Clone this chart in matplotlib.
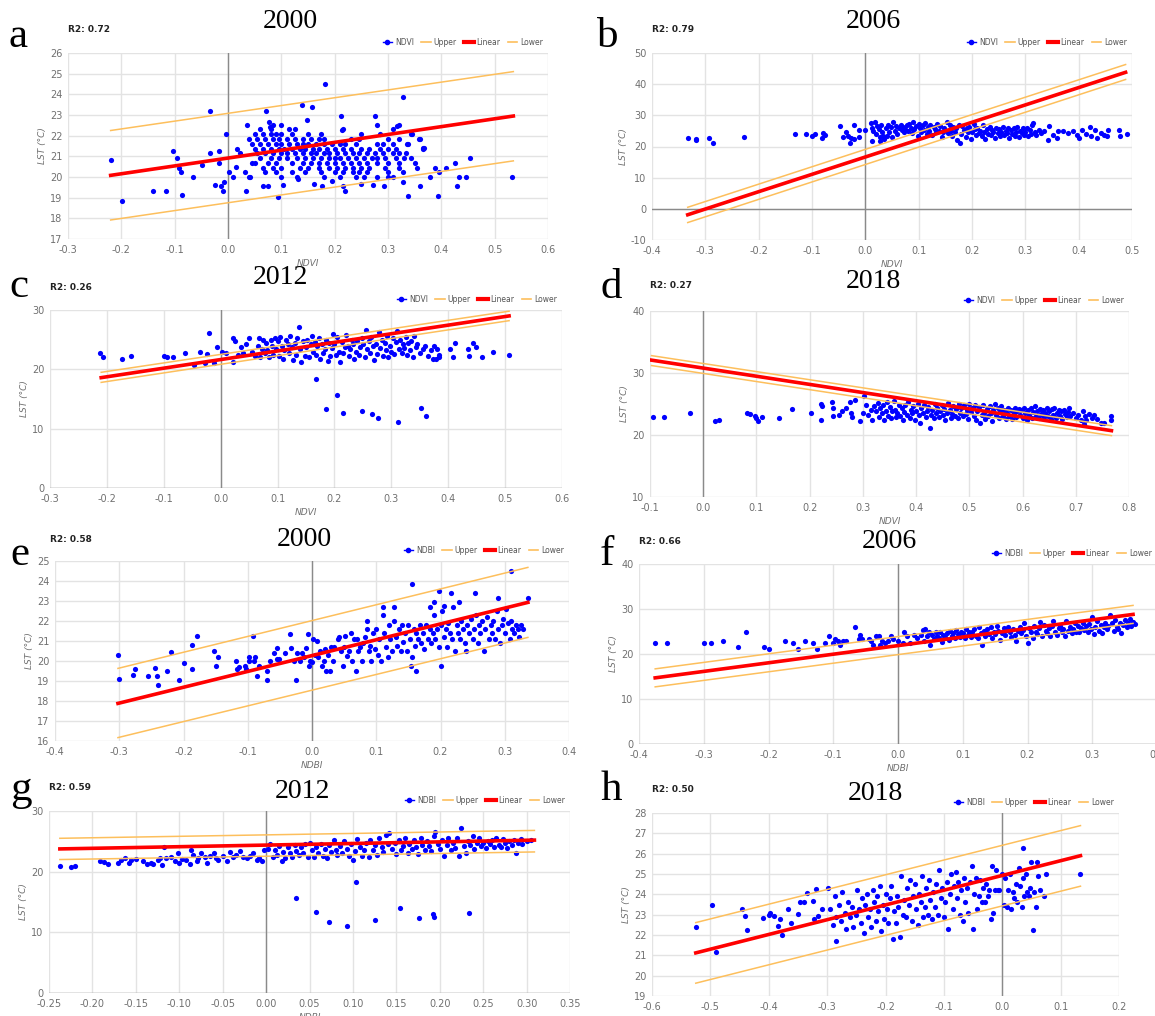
import numpy as np
import matplotlib
matplotlib.use("Agg")
import matplotlib.pyplot as plt
from matplotlib.lines import Line2D

W, H = 1155, 1016

# ---------------- data ----------------
years = ["2000", "2006", "2012", "2018", "2000", "2006", "2012", "2018"]
letters = ["a", "b", "c", "d", "e", "f", "g", "h"]
r2_texts = ["R2: 0.72", "R2: 0.79", "R2: 0.26", "R2: 0.27", "R2: 0.58", "R2: 0.66", "R2: 0.59", "R2: 0.50"]
index_names = ["NDVI", "NDVI", "NDVI", "NDVI", "NDBI", "NDBI", "NDBI", "NDBI"]

xticks_a = [-0.3, -0.2, -0.1, 0.0, 0.1, 0.2, 0.3, 0.4, 0.5, 0.6]
yticks_a = [17, 18, 19, 20, 21, 22, 23, 24, 25, 26]
xticks_b = [-0.4, -0.3, -0.2, -0.1, 0.0, 0.1, 0.2, 0.3, 0.4, 0.5]
yticks_b = [-10, 0, 10, 20, 30, 40, 50]
xticks_c = [-0.3, -0.2, -0.1, 0.0, 0.1, 0.2, 0.3, 0.4, 0.5, 0.6]
yticks_c = [0, 10, 20, 30]
xticks_d = [-0.1, 0.0, 0.1, 0.2, 0.3, 0.4, 0.5, 0.6, 0.7, 0.8]
yticks_d = [10, 20, 30, 40]
xticks_e = [-0.4, -0.3, -0.2, -0.1, 0.0, 0.1, 0.2, 0.3, 0.4]
yticks_e = [16, 17, 18, 19, 20, 21, 22, 23, 24, 25]
xticks_f = [-0.4, -0.3, -0.2, -0.1, 0.0, 0.1, 0.2, 0.3, 0.4]
yticks_f = [0, 10, 20, 30, 40]
xticks_g = [-0.25, -0.20, -0.15, -0.10, -0.05, 0.00, 0.05, 0.10, 0.15, 0.20, 0.25, 0.30, 0.35]
yticks_g = [0, 10, 20, 30]
xticks_h = [-0.6, -0.5, -0.4, -0.3, -0.2, -0.1, 0.0, 0.1, 0.2]
yticks_h = [19, 20, 21, 22, 23, 24, 25, 26, 27, 28]

# regression lines: (x0, y0), (x1, y1)
linear_a = [(-0.22, 20.08), (0.535, 22.95)]
upper_a = [(-0.22, 22.25), (0.535, 25.1)]
lower_a = [(-0.22, 17.92), (0.535, 20.78)]
linear_b = [(-0.333, -1.9), (0.488, 43.8)]
upper_b = [(-0.333, 0.5), (0.488, 46.3)]
lower_b = [(-0.333, -4.4), (0.488, 41.5)]
linear_c = [(-0.21, 18.6), (0.507, 29.0)]
upper_c = [(-0.21, 19.5), (0.507, 29.8)]
lower_c = [(-0.21, 17.8), (0.507, 28.2)]
linear_d = [(-0.097, 32.07), (0.767, 20.7)]
upper_d = [(-0.097, 32.8), (0.767, 21.5)]
lower_d = [(-0.097, 31.2), (0.767, 19.9)]
linear_e = [(-0.302, 17.88), (0.336, 22.93)]
upper_e = [(-0.302, 19.63), (0.336, 24.68)]
lower_e = [(-0.302, 16.17), (0.336, 21.18)]
linear_f = [(-0.375, 14.7), (0.363, 28.8)]
upper_f = [(-0.375, 16.7), (0.363, 30.8)]
lower_f = [(-0.375, 12.7), (0.363, 26.8)]
linear_g = [(-0.2375, 23.75), (0.309, 25.2)]
upper_g = [(-0.2375, 25.5), (0.309, 26.8)]
lower_g = [(-0.2375, 22.0), (0.309, 23.25)]
linear_h = [(-0.525, 21.12), (0.134, 25.9)]
upper_h = [(-0.525, 22.61), (0.134, 27.38)]
lower_h = [(-0.525, 19.63), (0.134, 24.4)]

points_a = [
    (-0.22, 20.82), (-0.198, 18.85), (-0.141, 19.3), (-0.116, 19.3), (-0.104, 21.26), (-0.095, 20.9), (-0.091, 20.42),
    (-0.089, 20.23), (-0.087, 19.14), (-0.065, 20.0), (-0.049, 20.6), (-0.034, 23.19), (-0.034, 21.14), (-0.024, 19.6),
    (-0.016, 21.27), (-0.016, 20.7), (-0.013, 19.55), (-0.01, 19.3), (-0.008, 19.78), (-0.003, 22.06), (0.002, 20.23),
    (0.009, 20.0), (0.015, 20.47), (0.017, 21.37), (0.022, 21.14), (0.031, 20.23), (0.033, 19.3), (0.035, 22.5),
    (0.042, 20.0), (0.045, 20.66), (0.071, 23.19), (0.076, 22.67), (0.078, 22.43), (0.139, 23.5), (0.158, 23.4),
    (0.181, 24.52), (0.149, 22.75), (0.212, 22.96), (0.213, 22.27), (0.276, 22.95), (0.329, 23.85), (0.316, 22.48),
    (0.094, 19.05), (0.075, 19.55), (0.065, 19.55), (0.104, 19.6), (0.132, 19.9), (0.162, 19.65), (0.177, 19.55),
    (0.195, 19.8), (0.215, 19.55), (0.22, 19.3), (0.25, 19.65), (0.271, 19.6), (0.292, 19.55), (0.337, 19.1),
    (0.36, 19.55), (0.394, 19.07), (0.379, 20.0), (0.389, 20.45), (0.396, 20.25), (0.408, 20.45), (0.426, 20.7),
    (0.429, 19.55), (0.433, 20.0), (0.446, 20.0), (0.454, 20.92), (0.532, 20.0), (0.365, 21.38), (0.368, 21.38),
    (0.344, 20.9), (0.35, 20.7), (0.355, 20.45), (0.334, 21.14), (0.337, 21.6), (0.358, 21.83), (0.344, 22.06),
    (0.328, 20.23), (0.328, 19.78),
    (0.085, 22.5), (0.1, 22.5), (0.28, 22.5), (0.32, 22.5),
    (0.06, 22.3), (0.08, 22.3), (0.115, 22.3), (0.125, 22.3), (0.215, 22.3), (0.31, 22.3),
    (0.05, 22.06), (0.065, 22.06), (0.08, 22.06), (0.09, 22.06), (0.1, 22.06), (0.12, 22.06), (0.15, 22.06),
    (0.175, 22.06), (0.25, 22.06), (0.285, 22.06), (0.345, 22.06),
    (0.04, 21.83), (0.055, 21.83), (0.07, 21.83), (0.085, 21.83), (0.095, 21.83), (0.11, 21.83), (0.125, 21.83),
    (0.14, 21.83), (0.155, 21.83), (0.17, 21.83), (0.18, 21.83), (0.23, 21.83), (0.245, 21.83), (0.3, 21.83),
    (0.32, 21.83), (0.36, 21.83),
    (0.045, 21.6), (0.06, 21.6), (0.075, 21.6), (0.09, 21.6), (0.1, 21.6), (0.115, 21.6), (0.13, 21.6), (0.14, 21.6),
    (0.15, 21.6), (0.165, 21.6), (0.18, 21.6), (0.195, 21.6), (0.21, 21.6), (0.22, 21.6), (0.24, 21.6), (0.28, 21.6),
    (0.29, 21.6), (0.31, 21.6), (0.335, 21.6),
    (0.05, 21.37), (0.065, 21.37), (0.08, 21.37), (0.095, 21.37), (0.105, 21.37), (0.12, 21.37), (0.135, 21.37),
    (0.145, 21.37), (0.16, 21.37), (0.17, 21.37), (0.185, 21.37), (0.2, 21.37), (0.215, 21.37), (0.23, 21.37),
    (0.25, 21.37), (0.265, 21.37), (0.285, 21.37), (0.3, 21.37), (0.315, 21.37), (0.365, 21.37),
    (0.055, 21.14), (0.07, 21.14), (0.085, 21.14), (0.1, 21.14), (0.11, 21.14), (0.125, 21.14), (0.14, 21.14),
    (0.155, 21.14), (0.165, 21.14), (0.18, 21.14), (0.19, 21.14), (0.205, 21.14), (0.22, 21.14), (0.235, 21.14),
    (0.245, 21.14), (0.26, 21.14), (0.275, 21.14), (0.29, 21.14), (0.31, 21.14), (0.32, 21.14),
    (0.06, 20.9), (0.08, 20.9), (0.095, 20.9), (0.11, 20.9), (0.13, 20.9), (0.145, 20.9), (0.16, 20.9), (0.175, 20.9),
    (0.19, 20.9), (0.2, 20.9), (0.21, 20.9), (0.225, 20.9), (0.24, 20.9), (0.255, 20.9), (0.27, 20.9), (0.28, 20.9),
    (0.295, 20.9), (0.315, 20.9), (0.33, 20.9),
    (0.05, 20.68), (0.075, 20.68), (0.09, 20.68), (0.12, 20.68), (0.14, 20.68), (0.155, 20.68), (0.17, 20.68),
    (0.185, 20.68), (0.2, 20.68), (0.215, 20.68), (0.23, 20.68), (0.245, 20.68), (0.26, 20.68), (0.28, 20.68),
    (0.3, 20.68), (0.32, 20.68),
    (0.065, 20.45), (0.085, 20.45), (0.1, 20.45), (0.135, 20.45), (0.15, 20.45), (0.17, 20.45), (0.19, 20.45),
    (0.205, 20.45), (0.22, 20.45), (0.235, 20.45), (0.25, 20.45), (0.265, 20.45), (0.295, 20.45), (0.32, 20.45),
    (0.07, 20.23), (0.09, 20.23), (0.12, 20.23), (0.145, 20.23), (0.175, 20.23), (0.2, 20.23), (0.215, 20.23),
    (0.235, 20.23), (0.245, 20.23), (0.26, 20.23), (0.3, 20.23),
    (0.04, 20.0), (0.1, 20.0), (0.13, 20.0), (0.18, 20.0), (0.21, 20.0), (0.24, 20.0), (0.255, 20.0), (0.28, 20.0),
    (0.3, 20.0), (0.31, 20.0),
]

points_b = [
    (-0.333, 22.6), (-0.318, 22.4), (-0.317, 22.0), (-0.294, 22.6), (-0.286, 21.1), (-0.228, 23.0), (-0.131, 23.9),
    (-0.111, 23.9), (-0.1, 23.5), (-0.095, 23.9), (-0.082, 22.6), (-0.079, 24.3), (-0.076, 23.8), (-0.048, 26.7),
    (-0.041, 23.0), (-0.037, 24.8), (-0.033, 23.3), (-0.028, 21.1), (-0.026, 22.7), (-0.021, 26.9), (-0.021, 22.4),
    (-0.012, 23.0), (-0.012, 25.2), (0.0, 25.2), (0.013, 21.8), (0.027, 21.8), (0.034, 23.3),
    (0.344, 26.7), (0.343, 22.2), (0.352, 23.8), (0.359, 22.7), (0.362, 25.1), (0.371, 24.9), (0.38, 24.3),
    (0.39, 25.1), (0.397, 23.8), (0.4, 22.7), (0.407, 25.2), (0.414, 24.1), (0.421, 26.2), (0.424, 23.3),
    (0.431, 25.2), (0.435, 22.6), (0.441, 24.3), (0.448, 23.8), (0.455, 25.4), (0.454, 23.5), (0.476, 25.4),
    (0.477, 23.5), (0.49, 24.0),
    (0.01, 27.5), (0.012, 26.0), (0.015, 25.0), (0.018, 27.8), (0.02, 24.0), (0.022, 26.5), (0.025, 25.5),
    (0.028, 23.0), (0.03, 26.8), (0.032, 24.5), (0.035, 22.5), (0.038, 25.8), (0.04, 23.5), (0.042, 27.0),
    (0.045, 24.8), (0.048, 26.2), (0.05, 23.0), (0.052, 27.8), (0.055, 25.0), (0.058, 26.5), (0.06, 24.0),
    (0.063, 25.8), (0.066, 27.0), (0.068, 25.2), (0.07, 26.3), (0.073, 24.6), (0.075, 25.7), (0.078, 26.8),
    (0.08, 25.0), (0.082, 27.3), (0.085, 26.0), (0.088, 24.3), (0.09, 27.8), (0.092, 25.5), (0.095, 26.6),
    (0.098, 23.5), (0.1, 27.2), (0.102, 25.9), (0.105, 24.8), (0.108, 26.9), (0.11, 25.3), (0.112, 27.5),
    (0.115, 24.0), (0.118, 26.2), (0.12, 25.0), (0.122, 27.0), (0.125, 23.8), (0.128, 26.4), (0.13, 25.6),
    (0.133, 24.5), (0.135, 27.2), (0.138, 25.1), (0.14, 26.5), (0.143, 23.0), (0.145, 24.8), (0.148, 26.0),
    (0.15, 25.3), (0.153, 28.0), (0.155, 24.2), (0.158, 26.8), (0.16, 25.0), (0.162, 23.5), (0.165, 26.2),
    (0.168, 24.6), (0.17, 25.8), (0.172, 22.0), (0.175, 27.0), (0.177, 21.0), (0.18, 24.0), (0.182, 26.5),
    (0.185, 25.2), (0.188, 23.2), (0.19, 25.8), (0.192, 24.5), (0.195, 26.3), (0.198, 22.5), (0.2, 24.8),
    (0.203, 27.2), (0.205, 25.5), (0.208, 23.8), (0.21, 26.0), (0.213, 24.3), (0.215, 25.0), (0.218, 23.5),
    (0.22, 26.8), (0.223, 24.8), (0.225, 22.3), (0.228, 25.5), (0.23, 24.0), (0.233, 26.2), (0.235, 23.6),
    (0.238, 25.2), (0.24, 24.5), (0.243, 22.8), (0.245, 26.0), (0.248, 24.2), (0.25, 25.5), (0.253, 23.4),
    (0.255, 24.8), (0.258, 26.3), (0.26, 23.8), (0.263, 25.0), (0.265, 24.3), (0.268, 26.0), (0.27, 22.8),
    (0.273, 25.3), (0.275, 24.0), (0.278, 25.8), (0.28, 23.5), (0.283, 24.7), (0.285, 26.4), (0.288, 23.2),
    (0.29, 25.0), (0.293, 24.2), (0.295, 25.8), (0.298, 23.8), (0.3, 24.6), (0.303, 26.0), (0.305, 23.4),
    (0.308, 25.2), (0.31, 24.0), (0.313, 26.8), (0.315, 27.4), (0.318, 24.5), (0.32, 23.6), (0.325, 25.4),
    (0.33, 24.2), (0.335, 25.0),
]

points_c = [
    (-0.212, 22.7), (-0.207, 22.1), (-0.174, 21.8), (-0.157, 22.3), (-0.1, 22.3), (-0.094, 22.1), (-0.083, 22.1),
    (-0.063, 22.7), (-0.047, 20.7), (-0.037, 23.0), (-0.027, 21.0), (-0.024, 22.6), (-0.02, 26.1), (-0.012, 21.0),
    (-0.007, 23.7), (0.002, 22.9), (0.01, 22.8), (0.021, 21.3), (0.021, 25.2),
    (0.167, 18.3), (0.185, 13.3), (0.205, 15.7), (0.215, 12.7), (0.249, 13.0), (0.266, 12.5), (0.276, 11.8),
    (0.312, 11.1), (0.353, 13.4), (0.361, 12.2),
    (0.374, 21.7), (0.383, 22.4), (0.404, 23.4), (0.408, 22.1), (0.412, 24.5), (0.435, 23.5), (0.436, 22.3),
    (0.444, 24.4), (0.448, 23.7), (0.459, 22.1), (0.479, 23.0), (0.507, 22.4),
    (0.025, 24.8), (0.03, 22.5), (0.035, 23.8), (0.04, 22.8), (0.045, 24.2), (0.05, 25.2), (0.055, 23.0),
    (0.06, 22.3), (0.065, 24.0), (0.068, 25.3), (0.07, 22.0), (0.072, 23.5), (0.075, 25.0), (0.078, 22.8),
    (0.08, 24.5), (0.082, 23.2), (0.085, 22.0), (0.088, 25.0), (0.09, 24.0), (0.092, 22.5), (0.095, 25.3),
    (0.098, 23.5), (0.1, 24.8), (0.102, 22.3), (0.105, 25.5), (0.108, 24.0), (0.11, 21.8), (0.112, 23.2),
    (0.115, 25.0), (0.118, 24.3), (0.12, 22.8), (0.122, 25.6), (0.125, 23.8), (0.128, 21.5), (0.13, 24.5),
    (0.132, 22.5), (0.135, 25.2), (0.138, 27.2), (0.14, 23.5), (0.142, 21.2), (0.145, 24.8), (0.148, 22.3),
    (0.15, 23.8), (0.152, 25.0), (0.155, 22.0), (0.158, 24.3), (0.16, 25.6), (0.162, 23.0), (0.165, 24.6),
    (0.168, 22.5), (0.17, 23.9), (0.173, 25.3), (0.175, 21.8), (0.178, 24.2), (0.18, 22.8), (0.183, 23.5),
    (0.185, 25.0), (0.188, 21.4), (0.19, 24.5), (0.193, 22.2), (0.195, 23.6), (0.198, 26.0), (0.2, 24.2),
    (0.202, 22.5), (0.205, 25.5), (0.208, 23.0), (0.21, 21.2), (0.213, 24.6), (0.215, 22.8), (0.218, 23.8),
    (0.22, 25.8), (0.223, 24.0), (0.225, 22.2), (0.228, 23.4), (0.23, 25.0), (0.233, 24.3), (0.235, 21.8),
    (0.238, 23.0), (0.24, 24.8), (0.243, 22.5), (0.245, 23.7), (0.248, 25.3), (0.25, 24.2), (0.253, 22.0),
    (0.255, 26.6), (0.258, 23.5), (0.26, 24.7), (0.263, 22.8), (0.265, 25.5), (0.268, 23.9), (0.27, 21.5),
    (0.273, 24.3), (0.275, 22.6), (0.278, 26.3), (0.28, 23.6), (0.283, 25.0), (0.285, 22.3), (0.288, 24.5),
    (0.29, 23.2), (0.293, 25.6), (0.295, 22.0), (0.298, 24.0), (0.3, 23.0), (0.303, 25.3), (0.305, 22.6),
    (0.308, 24.6), (0.31, 26.5), (0.313, 23.4), (0.315, 24.9), (0.318, 22.8), (0.32, 24.2), (0.323, 23.6),
    (0.325, 25.5), (0.328, 22.5), (0.33, 24.5), (0.333, 23.2), (0.335, 24.8), (0.338, 22.0), (0.34, 25.6),
    (0.343, 23.8), (0.345, 24.3), (0.35, 22.8), (0.355, 23.5), (0.36, 24.0), (0.365, 22.3), (0.37, 23.2),
    (0.375, 24.0), (0.378, 21.8), (0.38, 23.5), (0.383, 22.0),
]

points_d = [
    (-0.094, 22.97), (-0.074, 22.97), (-0.025, 23.5), (0.023, 22.3), (0.03, 22.4), (0.083, 23.5), (0.087, 23.4),
    (0.098, 23.1), (0.1, 22.7), (0.103, 22.3), (0.11, 22.9), (0.142, 22.8), (0.167, 24.2), (0.202, 23.5),
    (0.221, 25.0), (0.224, 24.6), (0.221, 22.4), (0.242, 25.4), (0.244, 24.4), (0.244, 23.0), (0.255, 23.2),
    (0.261, 23.8), (0.269, 24.3), (0.275, 25.4), (0.278, 23.5), (0.28, 22.9), (0.286, 25.6), (0.294, 22.3),
    (0.753, 21.9), (0.767, 23.1), (0.767, 22.4),
    (0.3, 23.6), (0.302, 26.3), (0.305, 24.9), (0.31, 23.2), (0.315, 24.0), (0.318, 22.5), (0.32, 24.6),
    (0.325, 23.8), (0.328, 25.2), (0.33, 22.9), (0.333, 24.3), (0.335, 23.5), (0.338, 24.9), (0.34, 22.4),
    (0.343, 23.9), (0.345, 25.3), (0.348, 23.1), (0.35, 24.5), (0.353, 22.7), (0.355, 23.8), (0.358, 25.5),
    (0.36, 24.1), (0.363, 22.9), (0.365, 23.5), (0.368, 24.8), (0.37, 23.0), (0.373, 24.3), (0.375, 22.5),
    (0.378, 23.7), (0.38, 24.9), (0.383, 23.3), (0.385, 25.3), (0.388, 22.8), (0.39, 24.1), (0.393, 23.5),
    (0.395, 24.6), (0.398, 22.4), (0.4, 23.9), (0.403, 25.0), (0.405, 23.2), (0.408, 22.0), (0.41, 24.4),
    (0.413, 23.6), (0.415, 24.8), (0.418, 22.9), (0.42, 23.8), (0.423, 24.5), (0.426, 21.2), (0.428, 23.3),
    (0.43, 24.1), (0.433, 22.7), (0.435, 25.0), (0.438, 23.6), (0.44, 24.4), (0.443, 22.9), (0.445, 23.8),
    (0.448, 24.8), (0.45, 23.2), (0.453, 24.2), (0.455, 22.5), (0.458, 23.6), (0.46, 25.2), (0.463, 24.0),
    (0.465, 22.8), (0.468, 23.4), (0.47, 24.6), (0.473, 23.1), (0.475, 24.2), (0.478, 22.7), (0.48, 25.0),
    (0.483, 23.6), (0.485, 24.4), (0.488, 23.0), (0.49, 24.8), (0.493, 23.4), (0.495, 24.1), (0.498, 22.6),
    (0.5, 25.0), (0.503, 23.7), (0.505, 24.3), (0.508, 23.1), (0.51, 24.8), (0.513, 22.4), (0.515, 23.8),
    (0.518, 24.5), (0.52, 22.0), (0.523, 23.3), (0.525, 24.9), (0.528, 23.6), (0.53, 22.6), (0.533, 24.2),
    (0.535, 23.0), (0.538, 24.7), (0.54, 23.5), (0.543, 22.2), (0.545, 24.0), (0.548, 25.0), (0.55, 23.3),
    (0.553, 24.4), (0.555, 22.8), (0.558, 23.8), (0.56, 24.6), (0.563, 23.1), (0.565, 24.1), (0.568, 22.6),
    (0.57, 23.6), (0.573, 24.4), (0.575, 23.0), (0.578, 24.0), (0.58, 22.6), (0.583, 23.5), (0.585, 24.3),
    (0.588, 22.9), (0.59, 23.8), (0.593, 24.2), (0.595, 23.2), (0.598, 24.0), (0.6, 22.8), (0.603, 24.4),
    (0.605, 23.5), (0.608, 22.5), (0.61, 24.1), (0.613, 23.3), (0.615, 24.4), (0.618, 22.8), (0.62, 23.7),
    (0.623, 24.6), (0.625, 23.0), (0.628, 23.9), (0.63, 22.7), (0.633, 24.2), (0.635, 23.4), (0.638, 24.0),
    (0.64, 22.9), (0.643, 23.6), (0.645, 24.3), (0.648, 23.1), (0.65, 23.8), (0.653, 22.6), (0.655, 24.2),
    (0.658, 23.3), (0.66, 24.4), (0.663, 22.8), (0.665, 23.6), (0.668, 24.1), (0.67, 23.0), (0.673, 23.8),
    (0.675, 22.6), (0.678, 24.0), (0.68, 23.4), (0.683, 22.9), (0.685, 23.7), (0.688, 24.3), (0.69, 23.1),
    (0.695, 23.6), (0.7, 22.8), (0.705, 23.3), (0.71, 22.5), (0.713, 23.8), (0.715, 21.8), (0.718, 23.0),
    (0.72, 22.4), (0.725, 23.4), (0.73, 22.7), (0.735, 23.2), (0.74, 22.6), (0.748, 21.9),
]

points_e = [
    (-0.302, 20.3), (-0.301, 19.12), (-0.278, 19.3), (-0.275, 19.58), (-0.256, 19.27), (-0.245, 19.63),
    (-0.242, 19.27), (-0.239, 18.8), (-0.225, 19.52), (-0.22, 20.43), (-0.207, 19.05), (-0.199, 19.92),
    (-0.187, 20.8), (-0.186, 19.58), (-0.179, 21.27), (-0.153, 20.52), (-0.149, 19.73), (-0.146, 20.22),
    (-0.119, 20.0), (-0.116, 19.58), (-0.114, 19.68), (-0.105, 19.77), (-0.103, 19.6), (-0.098, 20.2),
    (-0.098, 20.0), (-0.092, 21.25), (-0.09, 20.0), (-0.089, 20.2), (-0.085, 19.27), (-0.082, 19.75),
    (-0.07, 19.05), (-0.07, 19.52), (-0.065, 20.0), (-0.059, 20.42), (-0.054, 20.67), (-0.054, 20.1),
    (-0.051, 20.1), (-0.042, 20.42), (-0.035, 21.33), (-0.032, 20.67), (-0.028, 20.0), (-0.025, 19.05),
    (-0.024, 20.42), (-0.019, 20.0), (-0.016, 20.42), (-0.013, 20.22), (-0.01, 20.67), (-0.006, 21.33),
    (-0.005, 19.77), (-0.003, 20.0), (0.0, 19.97), (0.001, 21.1),
    (0.155, 23.83), (0.197, 23.5), (0.216, 23.38), (0.229, 22.93), (0.254, 23.38), (0.289, 23.13), (0.31, 24.5),
    (0.336, 23.17), (0.19, 22.93), (0.183, 22.72), (0.128, 22.72), (0.205, 22.75), (0.154, 19.73), (0.162, 19.52),
    (0.2, 19.75),
    (0.005, 20.3), (0.008, 21.0), (0.01, 20.2), (0.013, 20.5), (0.015, 19.75), (0.018, 20.0), (0.02, 20.6),
    (0.022, 19.5), (0.025, 20.3), (0.028, 19.5), (0.03, 20.7), (0.033, 20.0), (0.035, 20.7), (0.04, 21.1),
    (0.042, 21.2), (0.045, 20.5), (0.048, 19.75), (0.05, 20.7), (0.052, 21.25), (0.055, 20.25), (0.058, 20.5),
    (0.06, 21.4), (0.063, 20.0), (0.065, 21.1), (0.068, 19.5), (0.07, 21.1), (0.072, 20.5), (0.075, 20.7),
    (0.078, 20.0), (0.08, 20.9), (0.082, 21.2), (0.085, 22.0), (0.086, 21.6), (0.088, 20.5), (0.09, 20.75),
    (0.092, 20.0), (0.095, 21.4), (0.098, 20.6), (0.1, 21.6), (0.102, 20.3), (0.105, 21.1), (0.108, 20.0),
    (0.11, 22.3), (0.111, 22.7), (0.112, 21.4), (0.115, 20.7), (0.118, 20.2), (0.12, 21.8), (0.122, 21.1),
    (0.125, 20.5), (0.128, 22.0), (0.13, 21.2), (0.133, 20.75), (0.135, 21.6), (0.138, 20.5), (0.14, 21.8),
    (0.142, 20.95), (0.145, 21.4), (0.148, 20.5), (0.15, 21.8), (0.152, 21.1), (0.155, 20.2), (0.158, 21.6),
    (0.16, 20.75), (0.162, 21.4), (0.165, 21.1), (0.168, 21.8), (0.17, 20.9), (0.172, 21.4), (0.175, 20.6),
    (0.178, 21.8), (0.18, 21.1), (0.183, 21.6), (0.185, 20.9), (0.188, 21.4), (0.19, 22.3), (0.192, 21.1),
    (0.195, 21.6), (0.198, 20.7), (0.2, 21.8), (0.203, 22.5), (0.205, 21.2), (0.208, 21.6), (0.21, 20.7),
    (0.212, 21.9), (0.215, 21.4), (0.218, 21.1), (0.22, 22.7), (0.222, 20.5), (0.225, 21.8), (0.228, 21.4),
    (0.23, 21.1), (0.232, 22.0), (0.235, 21.6), (0.238, 20.9), (0.24, 20.5), (0.242, 21.8), (0.245, 21.4),
    (0.248, 22.1), (0.25, 21.1), (0.252, 21.6), (0.255, 22.3), (0.258, 20.9), (0.26, 21.8), (0.262, 21.4),
    (0.265, 22.0), (0.268, 20.5), (0.27, 21.6), (0.272, 22.2), (0.275, 21.1), (0.278, 21.8), (0.28, 21.4),
    (0.282, 22.0), (0.285, 21.1), (0.288, 22.5), (0.29, 21.6), (0.292, 20.9), (0.295, 21.8), (0.298, 22.1),
    (0.3, 21.4), (0.302, 22.6), (0.305, 21.9), (0.308, 21.1), (0.31, 22.0), (0.312, 21.6), (0.315, 21.4),
    (0.318, 21.8), (0.32, 21.6), (0.322, 21.2), (0.325, 21.8), (0.328, 21.6),
]

points_f = [
    (-0.375, 22.5), (-0.357, 22.5), (-0.299, 22.5), (-0.289, 22.5), (-0.271, 23.0), (-0.247, 21.6), (-0.234, 24.8),
    (-0.207, 21.6), (-0.2, 21.1), (-0.175, 23.0), (-0.162, 22.5), (-0.154, 21.1), (-0.143, 23.0), (-0.132, 22.5),
    (-0.125, 21.1), (-0.112, 22.5), (-0.106, 23.9), (-0.101, 22.5), (-0.098, 23.4), (-0.092, 23.0), (-0.089, 22.0),
    (-0.085, 23.0), (-0.08, 23.0), (-0.066, 26.1), (-0.058, 24.3), (-0.06, 23.4), (-0.055, 23.4), (-0.045, 23.4),
    (-0.041, 23.0), (-0.038, 22.1), (-0.034, 23.9), (-0.03, 23.9), (-0.028, 22.1), (-0.024, 23.0), (-0.02, 22.5),
    (-0.016, 23.0), (-0.011, 23.9), (-0.007, 23.4), (0.0, 23.0), (0.007, 22.5), (0.01, 24.8), (0.014, 23.9),
    (0.018, 22.5), (0.024, 24.3),
    (0.03, 23.5), (0.035, 24.3), (0.038, 25.3), (0.04, 22.8), (0.042, 25.6), (0.045, 23.9), (0.048, 24.8),
    (0.05, 22.1), (0.052, 24.2), (0.055, 23.4), (0.058, 24.8), (0.06, 24.1), (0.063, 23.5), (0.065, 24.9),
    (0.068, 22.7), (0.07, 24.3), (0.072, 23.8), (0.075, 24.6), (0.078, 23.2), (0.08, 25.1), (0.083, 24.0),
    (0.085, 24.7), (0.088, 23.5), (0.09, 25.3), (0.093, 24.4), (0.095, 23.8), (0.098, 25.0), (0.1, 24.6),
    (0.103, 23.6), (0.105, 25.6), (0.108, 24.3), (0.11, 25.0), (0.113, 23.8), (0.115, 24.8), (0.118, 25.5),
    (0.12, 24.1), (0.123, 23.5), (0.125, 25.9), (0.128, 24.6), (0.13, 22.1), (0.133, 25.2), (0.135, 24.0),
    (0.138, 25.6), (0.14, 24.4), (0.143, 26.0), (0.145, 23.6), (0.148, 25.0), (0.15, 24.5), (0.153, 26.3),
    (0.155, 25.1), (0.158, 23.1), (0.16, 24.6), (0.163, 25.8), (0.165, 24.2), (0.168, 25.4), (0.17, 26.1),
    (0.173, 24.8), (0.175, 23.8), (0.178, 25.6), (0.18, 24.3), (0.183, 23.0), (0.185, 25.2), (0.188, 26.0),
    (0.19, 24.6), (0.193, 25.4), (0.195, 27.0), (0.198, 24.1), (0.2, 22.5), (0.203, 25.8), (0.205, 24.8),
    (0.208, 23.5), (0.21, 26.2), (0.213, 25.0), (0.215, 24.4), (0.218, 25.7), (0.22, 27.2), (0.223, 24.0),
    (0.225, 26.4), (0.228, 25.2), (0.23, 24.6), (0.233, 25.8), (0.235, 24.0), (0.238, 26.2), (0.24, 27.3),
    (0.243, 25.0), (0.245, 24.3), (0.248, 25.7), (0.25, 26.3), (0.253, 24.8), (0.255, 25.5), (0.258, 24.0),
    (0.26, 27.3), (0.263, 25.2), (0.265, 26.0), (0.268, 24.6), (0.27, 25.6), (0.273, 26.8), (0.275, 25.0),
    (0.278, 26.2), (0.28, 24.8), (0.283, 25.8), (0.285, 27.0), (0.288, 25.3), (0.29, 26.3), (0.293, 25.0),
    (0.295, 26.7), (0.298, 25.5), (0.3, 28.2), (0.303, 24.4), (0.305, 26.0), (0.308, 27.4), (0.31, 25.2),
    (0.313, 26.5), (0.315, 24.6), (0.318, 26.0), (0.32, 27.0), (0.323, 25.6), (0.325, 26.3), (0.328, 28.6),
    (0.33, 26.8), (0.333, 25.2), (0.335, 27.5), (0.338, 26.0), (0.34, 25.6), (0.343, 27.0), (0.345, 24.7),
    (0.348, 26.4), (0.35, 27.6), (0.353, 26.0), (0.355, 26.8), (0.358, 27.8), (0.36, 26.3), (0.363, 27.2),
    (0.366, 26.6),
]

points_g = [
    (-0.2375, 20.95), (-0.225, 20.7), (-0.22, 20.95), (-0.191, 21.8), (-0.187, 21.6), (-0.182, 21.2),
    (-0.17, 21.5), (-0.167, 21.9), (-0.162, 22.2), (-0.158, 21.4), (-0.155, 22.0), (-0.15, 22.1), (-0.142, 21.7),
    (-0.137, 21.2), (-0.133, 21.5), (-0.13, 21.3), (-0.125, 22.0), (-0.122, 22.3), (-0.12, 21.1), (-0.117, 24.1),
    (-0.115, 22.2), (-0.11, 22.4), (-0.105, 21.7), (-0.102, 23.0), (-0.1, 21.5), (-0.097, 22.1), (-0.092, 22.0),
    (-0.088, 21.2), (-0.086, 23.6), (-0.084, 22.8), (-0.08, 21.8), (-0.078, 22.2), (-0.075, 23.0), (-0.07, 22.5),
    (-0.068, 21.5), (-0.065, 22.6), (-0.06, 23.0), (-0.058, 22.3), (-0.055, 22.0), (-0.05, 22.6), (-0.045, 21.8),
    (-0.042, 23.2), (-0.038, 22.4), (-0.035, 22.8), (-0.03, 23.4), (-0.027, 22.5), (-0.022, 22.3), (-0.018, 22.6),
    (-0.015, 23.0), (-0.01, 21.9), (-0.008, 22.2), (-0.005, 21.8), (-0.002, 23.5),
    (0.0345, 15.6), (0.058, 13.3), (0.072, 11.7), (0.093, 11.1), (0.103, 18.3), (0.126, 12.1), (0.154, 14.0),
    (0.176, 12.4), (0.192, 13.0), (0.193, 12.6), (0.234, 13.2),
    (0.002, 23.8), (0.005, 24.5), (0.008, 22.4), (0.01, 23.5), (0.012, 22.8), (0.015, 24.2), (0.018, 21.8),
    (0.02, 23.2), (0.022, 22.3), (0.025, 24.0), (0.028, 23.0), (0.03, 22.5), (0.033, 24.4), (0.035, 23.4),
    (0.038, 22.8), (0.04, 24.0), (0.043, 23.0), (0.045, 24.5), (0.048, 22.5), (0.05, 24.8), (0.053, 23.5),
    (0.055, 22.5), (0.058, 24.1), (0.06, 23.0), (0.063, 24.6), (0.065, 22.6), (0.068, 23.8), (0.07, 22.3),
    (0.072, 24.4), (0.075, 23.2), (0.078, 25.2), (0.08, 23.6), (0.082, 22.8), (0.085, 24.3), (0.088, 23.0),
    (0.09, 25.1), (0.093, 23.8), (0.095, 22.6), (0.098, 24.6), (0.1, 22.0), (0.102, 23.4), (0.105, 25.4),
    (0.108, 24.0), (0.11, 22.6), (0.113, 23.6), (0.115, 24.8), (0.118, 22.4), (0.12, 25.3), (0.123, 23.5),
    (0.125, 24.4), (0.128, 22.8), (0.13, 25.5), (0.133, 24.0), (0.135, 23.2), (0.138, 26.1), (0.14, 24.6),
    (0.142, 26.3), (0.145, 23.8), (0.148, 24.8), (0.15, 22.9), (0.153, 25.2), (0.155, 23.6), (0.158, 24.3),
    (0.16, 25.6), (0.163, 23.0), (0.165, 24.6), (0.168, 23.8), (0.17, 25.3), (0.173, 24.1), (0.175, 22.9),
    (0.178, 25.6), (0.18, 24.4), (0.183, 23.6), (0.185, 25.0), (0.188, 24.2), (0.19, 23.4), (0.193, 25.9),
    (0.195, 26.5), (0.198, 24.6), (0.2, 23.8), (0.203, 25.3), (0.205, 22.6), (0.208, 24.4), (0.21, 25.5),
    (0.213, 23.6), (0.215, 24.8), (0.218, 23.9), (0.22, 25.6), (0.222, 22.6), (0.225, 27.2), (0.228, 24.2),
    (0.23, 23.0), (0.233, 25.0), (0.235, 24.4), (0.238, 25.9), (0.24, 23.8), (0.243, 24.8), (0.245, 25.6),
    (0.248, 24.2), (0.25, 24.8), (0.253, 23.9), (0.255, 25.0), (0.258, 24.5), (0.26, 25.3), (0.263, 24.0),
    (0.265, 25.6), (0.268, 24.4), (0.27, 24.0), (0.273, 25.4), (0.275, 24.7), (0.278, 23.9), (0.28, 25.0),
    (0.283, 24.4), (0.285, 25.3), (0.288, 23.0), (0.29, 24.8), (0.293, 25.4), (0.295, 24.6), (0.3, 25.0),
    (0.305, 25.2),
]

points_h = [
    (-0.525, 22.4), (-0.497, 23.47), (-0.491, 21.17), (-0.446, 23.27), (-0.441, 22.94), (-0.438, 22.25),
    (-0.41, 22.83), (-0.4, 22.99), (-0.398, 23.07), (-0.391, 22.91), (-0.384, 22.42), (-0.38, 22.78),
    (-0.377, 22.02), (-0.367, 23.3), (-0.362, 22.61), (-0.35, 23.02), (-0.347, 23.6), (-0.339, 23.6),
    (-0.334, 24.06), (-0.324, 23.65), (-0.322, 22.78), (-0.319, 24.26), (-0.315, 22.91), (-0.309, 23.27),
    (-0.298, 24.3), (-0.284, 21.71),
    (-0.295, 23.3), (-0.29, 22.5), (-0.287, 23.9), (-0.285, 22.9), (-0.28, 23.5), (-0.277, 22.7), (-0.275, 24.1),
    (-0.27, 23.1), (-0.268, 22.3), (-0.265, 23.6), (-0.26, 22.9), (-0.258, 23.4), (-0.255, 22.4), (-0.25, 23.0),
    (-0.248, 24.2), (-0.245, 23.3), (-0.242, 22.6), (-0.24, 23.8), (-0.237, 22.1), (-0.235, 23.5), (-0.232, 24.0),
    (-0.23, 22.9), (-0.227, 23.3), (-0.225, 22.4), (-0.222, 24.2), (-0.22, 23.6), (-0.217, 22.7), (-0.215, 23.9),
    (-0.212, 23.2), (-0.21, 24.4), (-0.207, 22.2), (-0.205, 23.5), (-0.202, 22.8), (-0.2, 24.0), (-0.198, 23.3),
    (-0.195, 22.6), (-0.192, 23.8), (-0.19, 24.4), (-0.187, 21.8), (-0.185, 23.2), (-0.182, 22.6), (-0.18, 23.9),
    (-0.178, 23.4), (-0.175, 21.9), (-0.173, 24.9), (-0.17, 23.0), (-0.168, 23.7), (-0.165, 22.9), (-0.163, 24.3),
    (-0.16, 23.5), (-0.158, 24.7), (-0.155, 22.7), (-0.153, 23.9), (-0.15, 24.5), (-0.148, 23.3), (-0.145, 22.5),
    (-0.143, 24.0), (-0.14, 23.6), (-0.138, 24.9), (-0.135, 22.9), (-0.133, 23.4), (-0.13, 24.3), (-0.128, 23.0),
    (-0.125, 24.7), (-0.123, 23.7), (-0.12, 22.8), (-0.118, 24.1), (-0.115, 23.4), (-0.113, 24.5), (-0.11, 23.0),
    (-0.108, 25.2), (-0.105, 23.8), (-0.103, 24.3), (-0.1, 22.9), (-0.098, 23.6), (-0.095, 24.6), (-0.093, 22.3),
    (-0.09, 24.0), (-0.088, 25.0), (-0.085, 23.3), (-0.083, 24.4), (-0.08, 25.1), (-0.078, 23.8), (-0.075, 24.6),
    (-0.073, 23.0), (-0.07, 24.2), (-0.068, 22.7), (-0.065, 24.8), (-0.063, 23.6), (-0.06, 24.3), (-0.058, 23.1),
    (-0.055, 24.6), (-0.052, 25.4), (-0.05, 22.3), (-0.048, 24.0), (-0.045, 24.8), (-0.043, 23.3), (-0.04, 23.9),
    (-0.038, 24.7), (-0.035, 23.6), (-0.033, 24.3), (-0.03, 23.6), (-0.027, 24.5), (-0.025, 23.9), (-0.022, 24.2),
    (-0.02, 22.8), (-0.018, 25.4), (-0.015, 23.1), (-0.013, 24.2), (-0.01, 25.2), (-0.008, 24.2), (-0.005, 24.2),
    (0.0, 25.0), (0.003, 23.5), (0.005, 24.8), (0.008, 23.4), (0.01, 24.2), (0.013, 25.0), (0.015, 23.3),
    (0.018, 24.1), (0.02, 23.8), (0.023, 24.5), (0.025, 23.6), (0.028, 25.3), (0.03, 24.4), (0.033, 23.4),
    (0.035, 24.8), (0.036, 26.3), (0.038, 23.9), (0.04, 25.0), (0.043, 24.1), (0.045, 23.9), (0.048, 24.3),
    (0.05, 25.6), (0.052, 22.25), (0.055, 24.1), (0.057, 23.4), (0.06, 25.6), (0.062, 24.9), (0.065, 24.2),
    (0.072, 23.9), (0.075, 25.0), (0.134, 25.0),
]

# ---------------- layout (pixel boxes: left, right, top, bottom) ----------------
boxes = [
    (68, 548, 53, 239), (652, 1132, 53, 240),
    (50, 562, 310, 488), (650, 1129, 311, 497),
    (55, 569, 561, 741), (639, 1157, 564, 744),
    (49, 570, 811, 993), (652, 1119, 813, 996),
]
title_pos = [(290, 22), (873, 22), (280, 278), (873, 281), (304, 539), (889, 541), (302, 792), (875, 793)]
letter_pos = [(9, 47), (597, 47), (9, 297), (600, 298), (10, 565), (600, 565), (10, 800), (601, 800)]
r2_pos = [(68, 29), (652, 29), (50, 288), (650, 286), (50, 539), (639, 541), (49, 788), (652, 790)]

all_points = [points_a, points_b, points_c, points_d, points_e, points_f, points_g, points_h]
all_linear = [linear_a, linear_b, linear_c, linear_d, linear_e, linear_f, linear_g, linear_h]
all_upper = [upper_a, upper_b, upper_c, upper_d, upper_e, upper_f, upper_g, upper_h]
all_lower = [lower_a, lower_b, lower_c, lower_d, lower_e, lower_f, lower_g, lower_h]
all_xticks = [xticks_a, xticks_b, xticks_c, xticks_d, xticks_e, xticks_f, xticks_g, xticks_h]
all_yticks = [yticks_a, yticks_b, yticks_c, yticks_d, yticks_e, yticks_f, yticks_g, yticks_h]

BLUE = "#0000ff"
RED = "#ff0000"
ORANGE = "#fdbf5c"
GRID = "#e3e3e3"
ZERO = "#8a8a8a"
TICK = "#707070"

fig = plt.figure(figsize=(W / 100, H / 100), dpi=100)
fig.patch.set_facecolor("white")


def fx(px):
    return px / W


def fy(py):
    return 1 - py / H


for i in range(8):
    l, r, t, b = boxes[i]
    ax = fig.add_axes([l / W, 1 - b / H, (r - l) / W, (b - t) / H])
    xt, yt = all_xticks[i], all_yticks[i]
    ax.set_xlim(xt[0], xt[-1])
    ax.set_ylim(yt[0], yt[-1])
    ax.set_xticks(xt)
    ax.set_yticks(yt)
    if i == 6:
        ax.set_xticklabels([f"{v:.2f}" for v in xt])
    else:
        ax.set_xticklabels([f"{v:.1f}" for v in xt])
    ax.set_yticklabels([f"{v:d}" for v in yt])
    ax.tick_params(length=0, labelsize=7, colors=TICK, pad=4)
    for s in ax.spines.values():
        s.set_visible(False)
    for v in xt:
        ax.axvline(v, color=GRID, lw=1, zorder=0)
    for v in yt:
        ax.axhline(v, color=GRID, lw=1, zorder=0)
    ax.axvline(0, color=ZERO, lw=1, zorder=1)
    if yt[0] <= 0 <= yt[-1]:
        ax.axhline(0, color=ZERO, lw=1, zorder=1)

    pts = np.array(all_points[i])
    ax.scatter(pts[:, 0], pts[:, 1], s=14, color=BLUE, linewidths=0, zorder=3)

    up = np.array(all_upper[i])
    lin = np.array(all_linear[i])
    lo = np.array(all_lower[i])
    ax.plot(up[:, 0], up[:, 1], color=ORANGE, lw=1.1, zorder=4)
    ax.plot(lin[:, 0], lin[:, 1], color=RED, lw=2.6, zorder=5)
    ax.plot(lo[:, 0], lo[:, 1], color=ORANGE, lw=1.1, zorder=4)

    ax.set_ylabel("LST (°C)", fontsize=6.5, color=TICK, style="italic", labelpad=2)
    ax.set_xlabel(index_names[i], fontsize=6.5, color=TICK, style="italic", labelpad=3)

    handles = [
        Line2D([0], [0], color=BLUE, lw=1, marker="o", markersize=3),
        Line2D([0], [0], color=ORANGE, lw=1.2),
        Line2D([0], [0], color=RED, lw=3),
        Line2D([0], [0], color=ORANGE, lw=1.2),
    ]
    leg = ax.legend(handles, [index_names[i], "Upper", "Linear", "Lower"], loc="lower right",
                    bbox_to_anchor=(1.0, 1.01), ncol=4, frameon=False, fontsize=5.5,
                    handlelength=1.2, handletextpad=0.4, columnspacing=1.0, borderaxespad=0.2)
    for txt in leg.get_texts():
        txt.set_color("#555555")

    tx, ty = title_pos[i]
    fig.text(fx(tx), fy(ty), years[i], ha="center", va="center", fontsize=20,
             family="Liberation Serif", color="black")
    lx, ly = letter_pos[i]
    fig.text(fx(lx), fy(ly), letters[i], ha="left", va="baseline", fontsize=31,
             family="Liberation Serif", color="black")
    rx, ry = r2_pos[i]
    fig.text(fx(rx), fy(ry), r2_texts[i], ha="left", va="center", fontsize=6.5,
             fontweight="bold", color="#222222")

fig.savefig("out.png", dpi=100, facecolor="white")
